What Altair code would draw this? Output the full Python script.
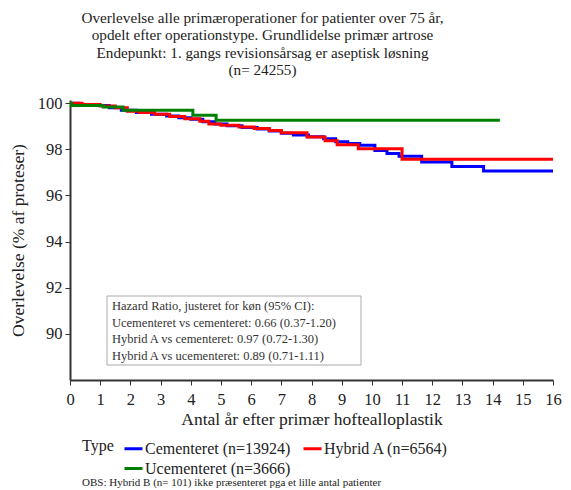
import altair as alt
import pandas as pd

series = ["Cementeret (n=13924)", "Hybrid A (n=6564)", "Ucementeret (n=3666)"]
colors = ["#0000FF", "#FF0000", "#008000"]

cem_years = [0, 0.3, 0.8, 1.3, 1.7, 2.2, 2.7, 3.2, 3.6, 4.0, 4.4, 4.8, 5.2, 5.7, 6.2, 6.6,
             7.0, 7.4, 7.9, 8.4, 8.8, 9.2, 9.6, 10.1, 10.5, 10.9, 11.65, 12.65, 13.7, 16.0]
cem_surv = [100, 99.95, 99.9, 99.8, 99.7, 99.6, 99.52, 99.45, 99.37, 99.3, 99.2, 99.1, 99.02,
            98.95, 98.88, 98.8, 98.7, 98.62, 98.55, 98.46, 98.33, 98.25, 98.18, 97.95, 97.82,
            97.7, 97.45, 97.26, 97.06, 97.06]

hyb_years = [0, 0.4, 1.0, 1.5, 1.9, 2.3, 2.8, 3.3, 3.8, 4.3, 4.6, 5.0, 5.6, 6.1, 6.6, 7.0,
             7.85, 8.45, 8.85, 9.55, 11.0, 16.0]
hyb_surv = [100, 99.95, 99.88, 99.8, 99.65, 99.6, 99.52, 99.42, 99.33, 99.22, 99.1, 99.05,
            98.97, 98.9, 98.82, 98.72, 98.54, 98.37, 98.2, 98.03, 97.57, 97.57]

ucem_years = [0, 0.05, 1.1, 1.76, 4.07, 4.84, 14.24]
ucem_surv = [100, 99.9, 99.84, 99.7, 99.48, 99.26, 99.26]

title_lines = [
    "Overlevelse alle primæroperationer for patienter over 75 år,",
    "opdelt efter operationstype. Grundlidelse primær artrose",
    "Endepunkt: 1. gangs revisionsårsag er aseptisk løsning",
    "(n= 24255)",
]
hr_lines = [
    "Hazard Ratio, justeret for køn (95% CI):",
    "Ucementeret vs cementeret: 0.66 (0.37-1.20)",
    "Hybrid A vs cementeret: 0.97 (0.72-1.30)",
    "Hybrid A vs ucementeret: 0.89 (0.71-1.11)",
]
footnote = "OBS: Hybrid B (n= 101) ikke præsenteret pga et lille antal patienter"
x_ticks = list(range(0, 17))
y_ticks = [90, 92, 94, 96, 98, 100]

rows = []
for name, yrs, vals in [(series[0], cem_years, cem_surv),
                        (series[1], hyb_years, hyb_surv),
                        (series[2], ucem_years, ucem_surv)]:
    for i, (x, v) in enumerate(zip(yrs, vals)):
        rows.append({"year": x, "surv": v, "type": name, "ord": i})
df = pd.DataFrame(rows)

FONT = "Liberation Serif"
AX = "#333333"

lines = alt.Chart(df).mark_line(interpolate="step-after", strokeWidth=3).encode(
    x=alt.X("year:Q",
            scale=alt.Scale(domain=[0, 16], nice=False),
            axis=alt.Axis(values=x_ticks, title="Antal år efter primær hoftealloplastik",
                          grid=False, labelFontSize=16.5, titleFontSize=17.5, labelFont=FONT,
                          titleFont=FONT, titleFontWeight="normal", domainColor=AX,
                          domainWidth=2, tickColor=AX, tickSize=5, labelColor="#222",
                          titleColor="#222", labelPadding=6, titlePadding=3, labelFlush=False)),
    y=alt.Y("surv:Q",
            scale=alt.Scale(domain=[88, 100.14], nice=False, zero=False),
            axis=alt.Axis(values=y_ticks, title="Overlevelse (% af proteser)",
                          grid=False, labelFontSize=16.5, titleFontSize=17.5, labelFont=FONT,
                          titleFont=FONT, titleFontWeight="normal", domainColor=AX,
                          domainWidth=2, tickColor=AX, tickSize=5, labelColor="#222",
                          titleColor="#222", labelPadding=3, titlePadding=10)),
    color=alt.Color("type:N",
                    scale=alt.Scale(domain=series, range=colors),
                    legend=alt.Legend(title="Type", orient="none", legendX=12, legendY=338,
                                      titleOrient="left", titleAnchor="start", columns=2,
                                      direction="horizontal",
                                      symbolType="stroke", symbolStrokeWidth=3, symbolSize=324,
                                      labelFont=FONT, titleFont=FONT, labelFontSize=16,
                                      titleFontSize=16, titleFontWeight="normal",
                                      labelColor="#222", titleColor="#222", labelOffset=1,
                                      columnPadding=6, rowPadding=1, titlePadding=9,
                                      labelLimit=300)),
    order="ord:Q",
)

box = alt.Chart(pd.DataFrame({"k": [0]})).mark_rect(fill="white", stroke="#aaaaaa", strokeWidth=1).encode(
    x=alt.value(37), x2=alt.value(291), y=alt.value(196), y2=alt.value(265)
)
hr_text = alt.Chart(pd.DataFrame({"k": [0]})).mark_text(
    align="left", baseline="top", font=FONT, fontSize=12.5, lineHeight=16.5, color="#333"
).encode(x=alt.value(42), y=alt.value(200), text=alt.value(hr_lines))

foot = alt.Chart(pd.DataFrame({"k": [0]})).mark_text(
    align="left", baseline="middle", font=FONT, fontSize=11, color="#222"
).encode(x=alt.value(12), y=alt.value(383), text=alt.value(footnote))

chart = alt.layer(lines, box, hr_text, foot).properties(
    width=483, height=280,
    autosize=alt.AutoSizeParams(type="none"),
    padding={"left": 62, "top": 92, "right": 10, "bottom": 110},
    title=alt.TitleParams(text=title_lines, anchor="middle", dx=-49, fontSize=15.2, font=FONT,
                          fontWeight="normal", lineHeight=17.5, offset=17, color="#222"),
).configure_view(stroke=None)

chart.save("out.html", embed_options={"renderer": "svg", "actions": False})
